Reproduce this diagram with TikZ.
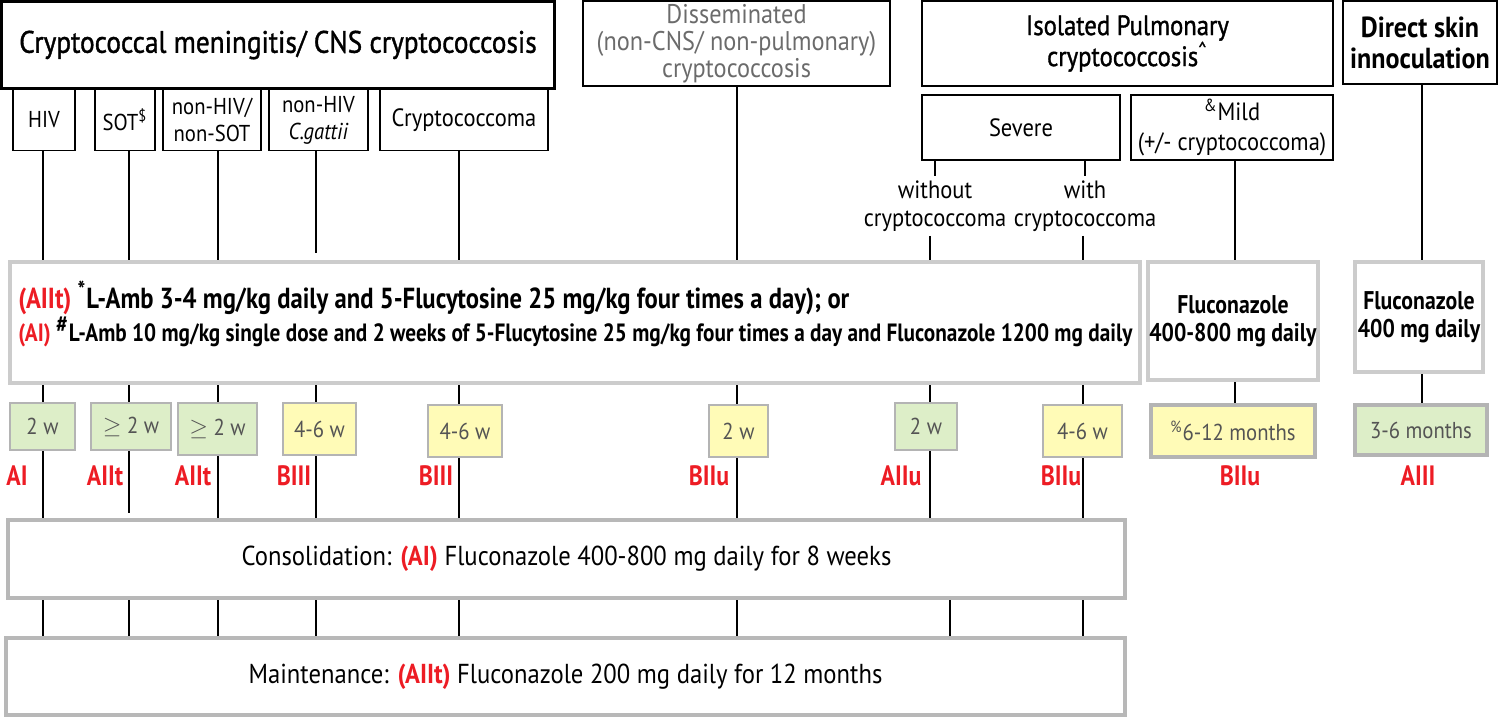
\documentclass[tikz,border=0pt]{standalone}
\usepackage{fontspec}
\usetikzlibrary{calc}
\setmainfont{PT Sans}[FakeStretch=0.9]
\newfontfamily\condfont{PT Sans}[FakeStretch=0.85]
\newfontfamily\headfont{PT Sans}[FakeStretch=0.88, FakeBold=1.2]
\definecolor{gradered}{RGB}{237,28,36}
\definecolor{weekgreen}{RGB}{221,238,200}
\definecolor{weekyellow}{RGB}{255,251,183}
\definecolor{regimengray}{RGB}{204,204,204}
\definecolor{weekgray}{RGB}{180,180,180}
\newcommand{\grade}[1]{{\color{gradered}\bfseries #1}}

\begin{document}
\begin{tikzpicture}[x=0.5pt,y=-0.5pt,
	wh/.style 2 args={minimum width=#1*0.5pt, minimum height=#2*0.5pt},
	head/.style={draw, line width=1.2pt, inner sep=0pt, align=center},
	sub/.style={draw, line width=0.7pt, inner sep=0pt, align=center, font=\fontsize{11.5}{13.5}\selectfont},
	regimen/.style={draw=regimengray, line width=2pt, inner sep=0pt, align=center},
	weeks/.style={draw=weekgray, line width=1.4pt, inner sep=0pt, text=black!67, font=\fontsize{11.5}{12}\selectfont},
	grade/.style={text=gradered, inner sep=0pt, font=\condfont\bfseries\fontsize{14}{14}\selectfont},
	link/.style={line width=0.9pt},
	thick link/.style={line width=1.4pt}]
		\useasboundingbox (0,0) rectangle (1500,719);
		\coordinate (c1) at (43,0);
		\coordinate (c2) at (129,0);
		\coordinate (c3) at (218,0);
		\coordinate (c4) at (316,0);
		\coordinate (c5) at (459,0);
		\coordinate (c6) at (737,0);
		\coordinate (c7) at (930,0);
		\coordinate (c7b) at (950,0);
		\coordinate (c8) at (1083,0);
		\coordinate (c9) at (1235,0);
		\coordinate (c10) at (1422,0);
		\node[head, wh={553}{87}, font=\headfont\fontsize{15.5}{18}\selectfont] (cns) at (278,45) {Cryptococcal meningitis/ CNS cryptococcosis};
		\node[head, wh={307}{85}, text=black!58, font=\fontsize{13.5}{13.5}\selectfont] (dis) at (736.5,43.5) {Disseminated\\(non-CNS/ non-pulmonary)\\cryptococcosis};
		\node[head, wh={411}{85}, font=\headfont\fontsize{14}{15.5}\selectfont] (pul) at (1127.5,43.5) {Isolated Pulmonary\\cryptococcosis\textsuperscript{\textasciicircum}};
		\node[head, wh={154}{83}, font=\bfseries\fontsize{14.5}{15.5}\selectfont] (skin) at (1420,42.5) {Direct skin\\innoculation};
		\node[sub, wh={62}{61}] (hiv) at (44,120) {HIV};
		\node[sub, wh={60}{61}] (sot) at (125,120) {SOT\textsuperscript{\$}};
		\node[sub, wh={98}{61}] (nonsot) at (212,120) {non-HIV/\\non-SOT};
		\node[sub, wh={99}{61}] (gattii) at (318.5,120) {non-HIV\\\textit{C.gattii}};
		\node[sub, wh={168}{61}, font=\fontsize{12.5}{14}\selectfont] (cryptoma) at (464,120) {Cryptococcoma};
		\node[sub, wh={198}{65}, font=\fontsize{12.5}{14}\selectfont] (severe) at (1021,127.5) {Severe};
		\node[sub, wh={202}{65}, font=\fontsize{12.5}{15}\selectfont] (mild) at (1232,127.5) {\textsuperscript{\&}Mild\\(+/- cryptococcoma)};
		\node[align=center, inner sep=2pt, font=\fontsize{12.5}{14}\selectfont] (without) at (935,206) {without\\cryptococcoma};
		\node[align=center, inner sep=2pt, font=\fontsize{12.5}{14}\selectfont] (with) at (1085,206) {with\\cryptococcoma};
		\node[regimen, wh={1130}{121}] (ind) at (575,322.5) {};
		\node[anchor=west, align=left, inner sep=0pt, font=\condfont\bfseries] (indtext) at (18,314) {{\fontsize{14.5}{14}\selectfont\grade{(AIIt)} \textsuperscript{\large *}L-Amb 3-4 mg/kg daily and 5-Flucytosine 25 mg/kg four times a day); or}\\{\fontsize{12.5}{14}\selectfont\grade{(AI)} \textsuperscript{\large\#}L-Amb 10 mg/kg single dose and 2 weeks of 5-Flucytosine 25 mg/kg four times a day and Fluconazole 1200 mg daily}};
		\node[regimen, wh={170}{118}, font=\condfont\bfseries\fontsize{12.8}{14}\selectfont] (flu1) at (1233,321) {Fluconazole\\400-800 mg daily};
		\node[regimen, wh={128}{110}, font=\condfont\bfseries\fontsize{12.8}{14}\selectfont] (flu2) at (1419,317) {Fluconazole\\400 mg daily};
		\node[weeks, fill=weekgreen, wh={65}{47}] (d1) at (42.5,426.5) {2 w};
		\node[weeks, fill=weekgreen, wh={80}{47}] (d2) at (131,426.5) {$\geq$ 2 w};
		\node[weeks, fill=weekgreen, wh={79}{52}] (d3) at (217.5,429) {$\geq$ 2 w};
		\node[weeks, fill=weekyellow, wh={73}{52}] (d4) at (319.5,429) {4-6 w};
		\node[weeks, fill=weekyellow, wh={74}{52}] (d5) at (465,431) {4-6 w};
		\node[weeks, fill=weekyellow, wh={59}{52}] (d6) at (738.5,431) {2 w};
		\node[weeks, fill=weekgreen, wh={62}{47}] (d7) at (926,426.5) {2 w};
		\node[weeks, fill=weekyellow, wh={79}{52}] (d8) at (1082.5,431) {4-6 w};
		\node[weeks, fill=weekyellow, wh={164}{52}, line width=2.2pt] (d9) at (1233,431) {\textsuperscript{\%}6-12 months};
		\node[weeks, fill=weekgreen, wh={132}{50}, line width=2.2pt] (d10) at (1421,430) {3-6 months};
		\node[grade] (g1) at (17,476) {AI};
		\node[grade] (g2) at (105,476) {AIIt};
		\node[grade] (g3) at (193,476) {AIIt};
		\node[grade] (g4) at (294,476) {BIII};
		\node[grade] (g5) at (436,476) {BIII};
		\node[grade] (g6) at (709,476) {BIIu};
		\node[grade] (g7) at (901,476) {AIIu};
		\node[grade] (g8) at (1061,476) {BIIu};
		\node[grade] (g9) at (1240,476) {BIIu};
		\node[grade] (g10) at (1418,476) {AIII};
		\node[regimen, draw=black!28, line width=2.2pt, wh={1117}{78}, font=\fontsize{13.7}{15}\selectfont] (cons) at (566.5,559) {Consolidation: \grade{(AI)} Fluconazole 400-800 mg daily for 8 weeks};
		\node[regimen, draw=black!28, line width=2.2pt, wh={1119}{77}, font=\fontsize{13.7}{15}\selectfont] (maint) at (565.5,676.5) {Maintenance: \grade{(AIIt)} Fluconazole 200 mg daily for 12 months};
		\foreach \c/\n in {c1/hiv, c2/sot, c3/nonsot, c5/cryptoma, c6/dis}
			\draw[link] (\c |- \n.south) -- (\c |- ind.north);
		\draw[link] (c4 |- gattii.south) -- ($(c4 |- ind.north)+(0,-7)$);
		\draw[link] (severe.south -| without) -- (without.north -| without);
		\draw[link] (severe.south -| with) -- (with.north -| with);
		\draw[link] (c7 |- without.south) -- (c7 |- ind.north);
		\draw[link] (c8 |- with.south) -- (c8 |- ind.north);
		\draw[link] (c9 |- mild.south) -- (c9 |- flu1.north);
		\draw[link] (c10 |- skin.south) -- (c10 |- flu2.north);
		\foreach \c/\n in {c1/d1, c2/d2, c3/d3, c4/d4, c5/d5, c6/d6, c7/d7, c8/d8}
			\draw[link] (\c |- ind.south) -- (\c |- \n.north);
		\draw[link] (c9 |- flu1.south) -- (c9 |- d9.north);
		\draw[link] (c10 |- flu2.south) -- (c10 |- d10.north);
		\foreach \c/\n in {c1/d1, c3/d3, c7/d7, c8/d8}
			\draw[link] (\c |- \n.south) -- (\c |- cons.north);
		\foreach \c/\n in {c4/d4, c5/d5, c6/d6}
			\draw[thick link] (\c |- \n.south) -- (\c |- cons.north);
		\draw[link] (c2 |- d2.south) -- ($(c2 |- cons.north)+(0,-5)$);
		\foreach \c in {c1, c2, c3, c4, c5, c6, c7b, c8}
			\draw[link] (\c |- cons.south) -- (\c |- maint.north);
		\end{tikzpicture}
\end{document}
